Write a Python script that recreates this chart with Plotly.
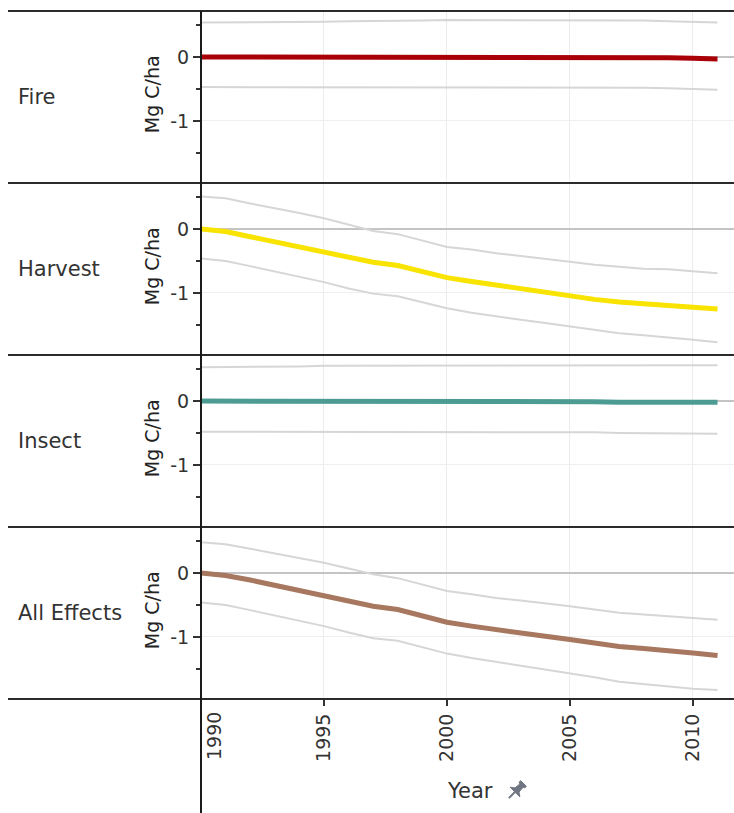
import math
import plotly.graph_objects as go
from plotly.subplots import make_subplots

# ---- data -------------------------------------------------------------
years = list(range(1990, 2012))

effects = ["Fire", "Harvest", "Insect", "All Effects"]

fire_mean = [0.00, 0.00, 0.00, 0.00, 0.00, 0.00, 0.00, 0.00, 0.00, 0.00, 0.00,
             0.00, 0.00, 0.00, 0.00, 0.00, 0.00, 0.00, 0.00, -0.01, -0.02, -0.03]
fire_upper = [0.54, 0.54, 0.55, 0.55, 0.55, 0.55, 0.56, 0.56, 0.57, 0.57, 0.58,
              0.58, 0.58, 0.58, 0.57, 0.57, 0.57, 0.57, 0.57, 0.56, 0.55, 0.54]
fire_lower = [-0.47, -0.47, -0.47, -0.48, -0.48, -0.48, -0.48, -0.48, -0.48, -0.48, -0.48,
              -0.48, -0.48, -0.48, -0.48, -0.48, -0.48, -0.48, -0.48, -0.49, -0.50, -0.51]

harvest_mean = [0.00, -0.04, -0.12, -0.20, -0.27, -0.35, -0.44, -0.52, -0.57, -0.67, -0.76,
                -0.82, -0.88, -0.93, -0.98, -1.04, -1.10, -1.14, -1.17, -1.19, -1.22, -1.25]
harvest_upper = [0.51, 0.48, 0.40, 0.33, 0.25, 0.17, 0.07, -0.03, -0.08, -0.18, -0.28,
                 -0.32, -0.38, -0.42, -0.46, -0.51, -0.56, -0.59, -0.62, -0.63, -0.66, -0.69]
harvest_lower = [-0.46, -0.50, -0.58, -0.66, -0.74, -0.83, -0.93, -1.01, -1.05, -1.14, -1.24,
                 -1.31, -1.37, -1.42, -1.47, -1.52, -1.58, -1.63, -1.66, -1.69, -1.73, -1.77]

insect_mean = [0.00, 0.00, 0.00, 0.00, 0.00, 0.00, 0.00, 0.00, 0.00, 0.00, 0.00,
               0.00, 0.00, 0.00, 0.00, 0.00, -0.01, -0.02, -0.02, -0.02, -0.02, -0.02]
insect_upper = [0.53, 0.53, 0.54, 0.54, 0.54, 0.55, 0.55, 0.55, 0.56, 0.56, 0.56,
                0.56, 0.56, 0.56, 0.56, 0.56, 0.56, 0.56, 0.56, 0.56, 0.56, 0.56]
insect_lower = [-0.48, -0.48, -0.48, -0.48, -0.48, -0.48, -0.48, -0.48, -0.48, -0.48, -0.48,
                -0.48, -0.48, -0.48, -0.48, -0.48, -0.49, -0.50, -0.50, -0.50, -0.51, -0.51]

all_mean = [0.00, -0.04, -0.11, -0.19, -0.26, -0.34, -0.44, -0.52, -0.57, -0.67, -0.77,
            -0.83, -0.89, -0.94, -0.99, -1.04, -1.10, -1.15, -1.18, -1.21, -1.25, -1.29]
all_upper = [0.48, 0.45, 0.38, 0.31, 0.24, 0.16, 0.07, -0.02, -0.08, -0.18, -0.28,
             -0.33, -0.39, -0.43, -0.47, -0.52, -0.57, -0.62, -0.65, -0.68, -0.71, -0.73]
all_lower = [-0.46, -0.50, -0.58, -0.66, -0.74, -0.83, -0.93, -1.02, -1.06, -1.16, -1.26,
             -1.33, -1.39, -1.44, -1.50, -1.56, -1.63, -1.70, -1.74, -1.77, -1.81, -1.83]

means = [fire_mean, harvest_mean, insect_mean, all_mean]
uppers = [fire_upper, harvest_upper, insect_upper, all_upper]
lowers = [fire_lower, harvest_lower, insect_lower, all_lower]
colors = ["#a90008", "#f9e300", "#4d9c94", "#a7775f"]

x_ticks = [1990, 1995, 2000, 2005, 2010]
x_labels = ["1990", "1995", "2000", "2005", "2010"]
y_ticks = [0, -1]
y_labels = ["0", "-1"]

# ---- page geometry (pixels) ------------------------------------------
W, H = 734, 813
L, R, T, B = 201, 0, 11, 114
PW, PH = W - L - R, H - T - B
FONT = "DejaVu Sans"
TXT = "#333333"


def px(xpix):
    return (xpix - L) / PW


def py(ypix):
    return (H - B - ypix) / PH


fig = make_subplots(rows=4, cols=1, shared_xaxes=True, vertical_spacing=0)

for i, name in enumerate(effects):
    row = i + 1
    for band in (uppers[i], lowers[i]):
        fig.add_trace(go.Scatter(x=years, y=band, mode="lines",
                                 line=dict(color="#d6d6d6", width=2),
                                 hoverinfo="skip", showlegend=False),
                      row=row, col=1)
    fig.add_trace(go.Scatter(x=years, y=means[i], mode="lines", name=name,
                             line=dict(color=colors[i], width=5),
                             showlegend=False),
                  row=row, col=1)
    fig.update_yaxes(range=[-1.97, 0.72], tickvals=y_ticks, ticktext=y_labels,
                     ticks="outside", ticklen=7, tickcolor="#333", tickwidth=1.5,
                     minor=dict(dtick=0.5, tick0=0, ticks="outside", ticklen=4,
                                tickcolor="#333", tickwidth=1.5, showgrid=False),
                     showgrid=True, gridcolor="#efefef", gridwidth=1,
                     zeroline=True, zerolinecolor="#c4c4c4", zerolinewidth=1.5,
                     showline=False,
                     tickfont=dict(family=FONT, size=19, color=TXT),
                     row=row, col=1)
    fig.update_xaxes(range=[1990, 2011.67], tickvals=x_ticks,
                     showgrid=True, gridcolor="#ececec", gridwidth=1,
                     zeroline=False, showline=False, row=row, col=1)

    # panel label and axis title
    mid = 1 - (i + 0.5) / 4
    fig.add_annotation(text=name, xref="paper", yref="paper", x=px(16), y=mid,
                       xanchor="left", yanchor="middle", showarrow=False,
                       font=dict(family=FONT, size=21, color=TXT))
    fig.add_annotation(text="Mg C/ha", xref="paper", yref="paper", x=px(152), y=mid + 0.004,
                       xanchor="center", yanchor="middle", showarrow=False, textangle=-90,
                       font=dict(family=FONT, size=19, color="#222"))

# the first year label sits just right of the axis rule, so it is placed separately
fig.update_xaxes(ticks="outside", ticklen=6, tickcolor="#333", tickwidth=1.5,
                 tickangle=-90, ticktext=[""] + x_labels[1:],
                 tickfont=dict(family=FONT, size=19, color=TXT),
                 row=4, col=1)
fig.add_annotation(text=x_labels[0], xref="paper", yref="paper", x=px(214), y=py(710),
                   xanchor="center", yanchor="top", showarrow=False, textangle=-90,
                   font=dict(family=FONT, size=19, color=TXT))

# row separators
for k in range(5):
    yy = 1 - k / 4
    fig.add_shape(type="line", xref="paper", yref="paper", x0=px(8), x1=px(W),
                  y0=yy, y1=yy, line=dict(color="#2b2b2b", width=2), layer="above")

# vertical axis rule running through all panels and the year axis
fig.add_shape(type="line", xref="paper", yref="paper", x0=0, x1=0,
              y0=1, y1=py(H), line=dict(color="#1a1a1a", width=2), layer="above")

# x axis title with a pin glyph
fig.add_annotation(text="Year", xref="paper", yref="paper", x=px(470), y=py(791),
                   xanchor="center", yanchor="middle", showarrow=False,
                   font=dict(family=FONT, size=21, color=TXT))

pin = [(-3.5, -8), (3.5, -8), (3.5, -6), (2, -5.5), (2.5, 0), (6, 2.5),
       (-6, 2.5), (-2.5, 0), (-2, -5.5), (-3.5, -6)]
ang = math.radians(45)
cx, cy = 517, 790
sc = 1.15


def rot(a, b):
    return (cx + sc * (a * math.cos(ang) - b * math.sin(ang)),
            cy + sc * (a * math.sin(ang) + b * math.cos(ang)))


pts = [rot(a, b) for (a, b) in pin]
head = "M " + " L ".join(f"{px(p[0]):.5f},{py(p[1]):.5f}" for p in pts) + " Z"
fig.add_shape(type="path", xref="paper", yref="paper", path=head,
              fillcolor="#6f7682", line=dict(color="#6f7682", width=1))
n0, n1 = rot(0, 2.5), rot(0, 10)
fig.add_shape(type="line", xref="paper", yref="paper",
              x0=px(n0[0]), y0=py(n0[1]), x1=px(n1[0]), y1=py(n1[1]),
              line=dict(color="#6f7682", width=2))

fig.update_layout(width=W, height=H, margin=dict(l=L, r=R, t=T, b=B),
                  paper_bgcolor="white", plot_bgcolor="white",
                  font=dict(family=FONT, color=TXT))

fig.write_html("out.html")
